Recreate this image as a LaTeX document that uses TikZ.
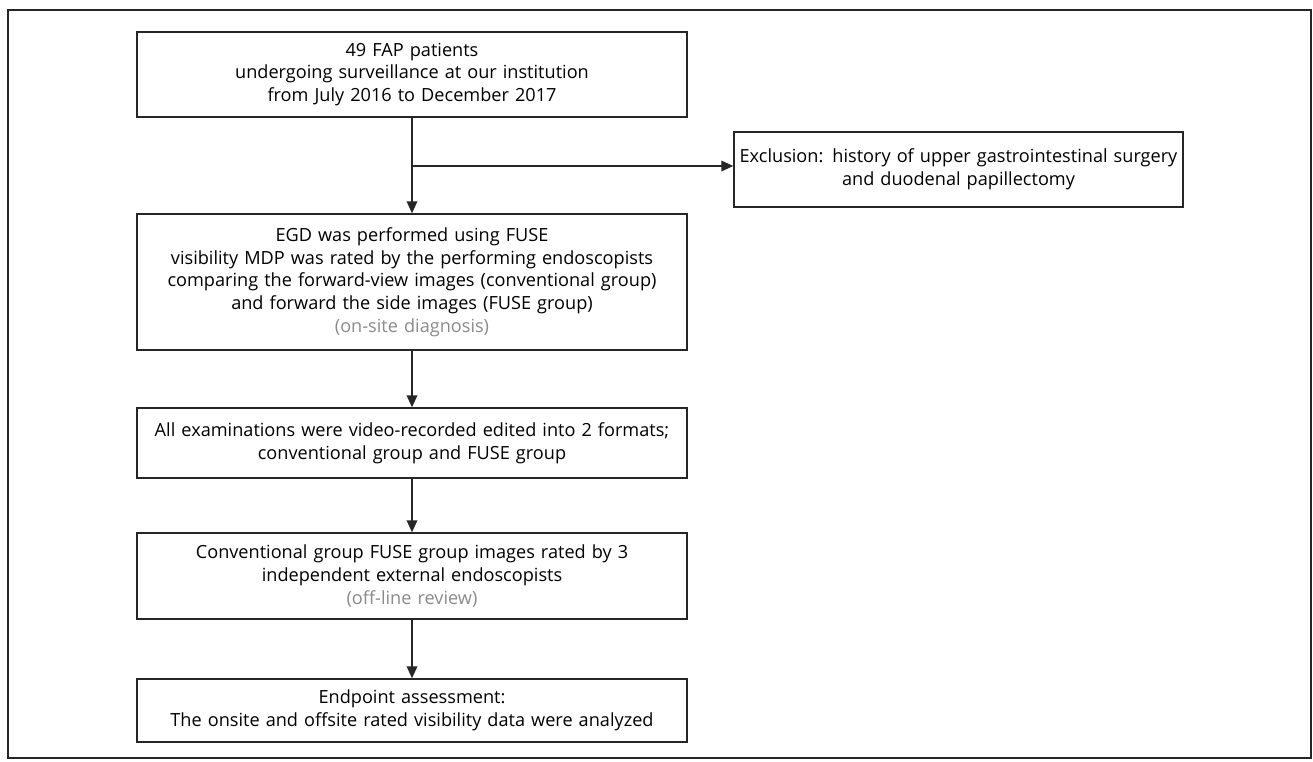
\documentclass[tikz,border=0pt]{standalone}
\usepackage{fontspec}
\setmainfont{Open Sans}
\usetikzlibrary{arrows.meta, positioning}
\definecolor{lineDark}{HTML}{262626}
\definecolor{noteGray}{HTML}{8A8A8A}

\begin{document}
\begin{tikzpicture}[x=0.75pt, y=-0.75pt,
        flowbox/.style={draw=lineDark, line width=1.1pt, align=center, text width=404pt, minimum width=412.5pt, inner sep=3pt, font=\fontsize{13.6}{17}\selectfont},
        sidebox/.style={flowbox, text width=330pt, minimum width=336.75pt},
        flowarrow/.style={-{Triangle[length=9pt, width=8pt]}, line width=1.1pt, lineDark}]
        \useasboundingbox (0,0) rectangle (1313,761);

        % Outer frame
        \draw[lineDark, line width=1.4pt] (8,10) rectangle (1311,758);

        % Main column
        \node[flowbox, minimum height=63.75pt] (patients) at (412,74.5) {49 FAP patients\\undergoing surveillance at our institution\\from July 2016 to December 2017};
        \node[flowbox, minimum height=102pt] (egd) at (412,282) {EGD was performed using FUSE\\visibility MDP was rated by the performing endoscopists\\comparing the forward-view images (conventional group)\\and forward the side images (FUSE group)\\{\color{noteGray}(on-site diagnosis)}};
        \node[flowbox, minimum height=52.5pt] (video) at (412,443) {All examinations were video-recorded edited into 2 formats;\\conventional group and FUSE group};
        \node[flowbox, minimum height=64.5pt] (review) at (412,576) {Conventional group FUSE group images rated by 3\\independent external endoscopists\\{\color{noteGray}(off-line review)}};
        \node[flowbox, minimum height=47.25pt] (endpoint) at (412,710.5) {Endpoint assessment:\\The onsite and offsite rated visibility data were analyzed};

        % Exclusion on the side
        \node[sidebox, minimum height=56.25pt] (exclusion) at (958.5,169.5) {Exclusion: history of upper gastrointestinal surgery\\and duodenal papillectomy};
        \coordinate (split) at (412,166);

        % Arrows
        \draw[flowarrow] (patients) -- (egd);
        \draw[flowarrow] (split) -- (split -| exclusion.west);
        \draw[flowarrow] (egd) -- (video);
        \draw[flowarrow] (video) -- (review);
        \draw[flowarrow] (review) -- (endpoint);
\end{tikzpicture}
\end{document}
